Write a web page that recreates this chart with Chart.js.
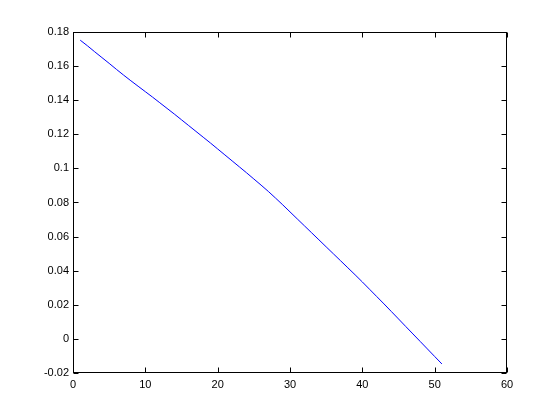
<!DOCTYPE html>
<html>
<head>
<meta charset="utf-8">
<script src="https://cdn.jsdelivr.net/npm/chart.js@4"></script>
<style>
    html, body { margin: 0; padding: 0; background: #fff; }
    #wrap { width: 560px; height: 420px; }
</style>
</head>
<body>
<div id="wrap"><canvas id="grafico" width="560" height="420"></canvas></div>
<script>
// valores
const xs = [1, 2, 3, 4, 5, 6, 7, 8, 9, 10,
    11, 12, 13, 14, 15, 16, 17, 18, 19, 20,
    21, 22, 23, 24, 25, 26, 27, 28, 29, 30,
    31, 32, 33, 34, 35, 36, 37, 38, 39, 40,
    41, 42, 43, 44, 45, 46, 47, 48, 49, 50, 51];
const ys = [0.1752, 0.1719, 0.1684, 0.1650, 0.1616, 0.1581, 0.1547, 0.1514, 0.1482, 0.1450,
    0.1418, 0.1385, 0.1352, 0.1319, 0.1285, 0.1251, 0.1217, 0.1183, 0.1149, 0.1114,
    0.1079, 0.1044, 0.1009, 0.0974, 0.0938, 0.0902, 0.0865, 0.0826, 0.0786, 0.0745,
    0.0704, 0.0663, 0.0622, 0.0581, 0.0540, 0.0499, 0.0458, 0.0417, 0.0376, 0.0334,
    0.0291, 0.0248, 0.0205, 0.0161, 0.0117, 0.0073, 0.0029, -0.0015, -0.0059, -0.0103, -0.0147];
const xTicks = [0, 10, 20, 30, 40, 50, 60];
const yTicks = [-0.02, 0, 0.02, 0.04, 0.06, 0.08, 0.1, 0.12, 0.14, 0.16, 0.18];

const fonte = { family: '"Liberation Sans", Helvetica, Arial, sans-serif', size: 11 };

// caixa completa com marcas para dentro (estilo matlab)
const caixa = {
    id: 'caixa',
    afterDraw(chart) {
        const { ctx, chartArea: a, scales } = chart;
        const L = Math.round(a.left) + 0.5, R = Math.round(a.right) - 0.5;
        const T = Math.round(a.top) + 0.5, B = Math.round(a.bottom) - 0.5;
        ctx.save();
        ctx.strokeStyle = '#000';
        ctx.lineWidth = 1;
        ctx.strokeRect(L, T, R - L, B - T);
        ctx.beginPath();
        xTicks.forEach(v => {
            const px = Math.round(scales.x.getPixelForValue(v)) + 0.5;
            ctx.moveTo(px, B); ctx.lineTo(px, B - 5);
            ctx.moveTo(px, T); ctx.lineTo(px, T + 5);
        });
        yTicks.forEach(v => {
            const py = Math.round(scales.y.getPixelForValue(v)) + 0.5;
            ctx.moveTo(L, py); ctx.lineTo(L + 5, py);
            ctx.moveTo(R, py); ctx.lineTo(R - 5, py);
        });
        ctx.stroke();
        ctx.restore();
    }
};

const ctx = document.getElementById('grafico').getContext('2d');
new Chart(ctx, {
    type: 'scatter',
    data: {
        datasets: [{
            data: xs.map((x, i) => ({ x: x, y: ys[i] })),
            showLine: true,
            borderColor: 'rgb(0, 0, 255)',
            borderWidth: 1,
            pointRadius: 0,
            tension: 0
        }]
    },
    options: {
        responsive: false,
        animation: false,
        layout: { padding: { top: 32, right: 53, left: 0, bottom: 0 } },
        plugins: {
            legend: { display: false },
            tooltip: { enabled: false }
        },
        scales: {
            x: {
                type: 'linear',
                min: 0,
                max: 60,
                afterBuildTicks: s => { s.ticks = xTicks.map(v => ({ value: v })); },
                afterFit: s => { s.height = 47; },
                grid: { display: false, drawTicks: false },
                border: { display: false },
                ticks: { color: '#000', font: fonte, padding: 5, maxRotation: 0 }
            },
            y: {
                type: 'linear',
                min: -0.02,
                max: 0.18,
                afterBuildTicks: s => { s.ticks = yTicks.map(v => ({ value: v })); },
                afterFit: s => { s.width = 73; },
                grid: { display: false, drawTicks: false },
                border: { display: false },
                ticks: {
                    color: '#000',
                    font: fonte,
                    padding: 4,
                    callback: v => String(Math.round(v * 100) / 100)
                }
            }
        }
    },
    plugins: [caixa]
});
</script>
</body>
</html>
